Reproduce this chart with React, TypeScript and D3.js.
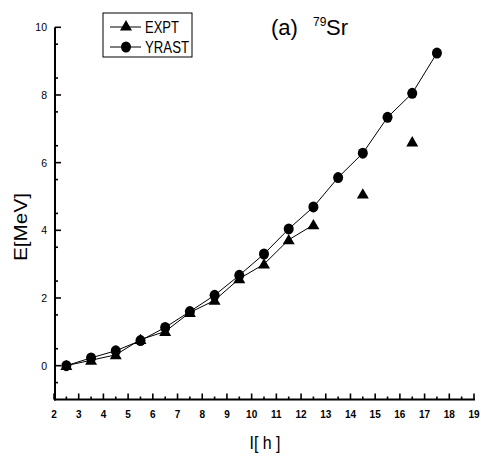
import React from "react";
import * as d3 from "d3";

// spins I (hbar)
const spins = [2.5, 3.5, 4.5, 5.5, 6.5, 7.5, 8.5, 9.5, 10.5, 11.5, 12.5, 13.5, 14.5, 15.5, 16.5, 17.5];
// yrast energies (MeV)
const yrast = [0.0, 0.23, 0.44, 0.74, 1.13, 1.6, 2.08, 2.67, 3.3, 4.04, 4.69, 5.56, 6.28, 7.34, 8.05, 9.24];
// experimental energies (MeV), null where not measured
const expt: (number | null)[] = [0.0, 0.16, 0.32, 0.77, 1.01, 1.57, 1.93, 2.57, 3.0, 3.72, 4.16, null, 5.07, null, 6.61, null];

const xTicks = d3.range(2, 20);
const yTicks = [0, 2, 4, 6, 8, 10];

const W = 481;
const H = 457;
const FONT = "'Liberation Sans', Arial, sans-serif";

export default function App() {
  const x = d3.scaleLinear().domain([2, 19]).range([54, 474]);
  const y = d3.scaleLinear().domain([-1, 10]).range([399.5, 27.3]);

  const line = d3
    .line<[number, number | null]>()
    .defined((d) => d[1] !== null)
    .x((d) => x(d[0]))
    .y((d) => y(d[1] as number));

  const yrastPts: [number, number | null][] = spins.map((s, i) => [s, yrast[i]]);
  const exptPts: [number, number | null][] = spins.map((s, i) => [s, expt[i]]);

  const tri = d3.symbol().type(d3.symbolTriangle).size(62);
  const circ = (cx: number, cy: number, k: string) => (
    <ellipse key={k} cx={cx} cy={cy} rx={5} ry={5.5} fill="#000" />
  );
  const triangle = (cx: number, cy: number, k: string) => (
    <path key={k} d={tri() as string} transform={`translate(${cx},${cy + 1})`} fill="#000" />
  );

  const x0 = x(2);
  const y0 = y(-1);
  const minorX = d3.range(2.5, 19, 1);
  const minorY = d3.range(-0.5, 10, 1);

  return (
    <svg width={W} height={H} style={{ position: "absolute", left: 0, top: 0 }}>
      <rect width={W} height={H} fill="#fff" />
      {/* axes */}
      <line x1={x0} x2={x(19) + 1} y1={y0} y2={y0} stroke="#000" strokeWidth={2} />
      <line x1={55} x2={55} y1={y(10)} y2={y0 + 1} stroke="#000" strokeWidth={2} />
      {xTicks.map((t) => (
        <g key={"xt" + t}>
          <line x1={x(t)} x2={x(t)} y1={y0} y2={y0 - 6} stroke="#000" strokeWidth={1.6} />
          <text x={x(t)} y={y0 + 18} textAnchor="middle" fontFamily={FONT} fontWeight="bold" fontSize={10}>
            {t}
          </text>
        </g>
      ))}
      {minorX.map((t) => (
        <line key={"xm" + t} x1={x(t)} x2={x(t)} y1={y0} y2={y0 - 3} stroke="#000" strokeWidth={1.6} />
      ))}
      {yTicks.map((t) => (
        <g key={"yt" + t}>
          <line x1={55} x2={61} y1={y(t)} y2={y(t)} stroke="#000" strokeWidth={1.6} />
          <text x={47} y={y(t) + 4} textAnchor="end" fontFamily={FONT} fontSize={10.5}>
            {t}
          </text>
        </g>
      ))}
      {minorY.map((t) => (
        <line key={"ym" + t} x1={55} x2={58} y1={y(t)} y2={y(t)} stroke="#000" strokeWidth={1.6} />
      ))}
      {/* axis titles */}
      <text x={265} y={449} textAnchor="middle" fontFamily={FONT} fontSize={18} textLength={31} lengthAdjust="spacingAndGlyphs">
        I[ h ]
      </text>
      <text
        transform={`translate(27,227) rotate(-90)`}
        textAnchor="middle"
        fontFamily={FONT}
        fontSize={18}
        textLength={68}
        lengthAdjust="spacingAndGlyphs"
      >
        E[MeV]
      </text>
      {/* title */}
      <text x={271} y={35} fontFamily={FONT} fontSize={22}>
        (a)
      </text>
      <text x={313} y={26} fontFamily={FONT} fontSize={12}>
        79
      </text>
      <text x={326} y={35} fontFamily={FONT} fontSize={22}>
        Sr
      </text>
      {/* series */}
      <path d={line(exptPts) as string} fill="none" stroke="#000" strokeWidth={1} />
      <path d={line(yrastPts) as string} fill="none" stroke="#000" strokeWidth={1} />
      {yrastPts.map((d, i) => circ(x(d[0]), y(d[1] as number), "c" + i))}
      {exptPts
        .filter((d) => d[1] !== null)
        .map((d, i) => triangle(x(d[0]), y(d[1] as number), "t" + i))}
      {/* legend */}
      <rect x={103} y={13} width={89} height={44} fill="#fff" stroke="#000" strokeWidth={1} />
      <line x1={110} x2={141} y1={27} y2={27} stroke="#000" strokeWidth={1} />
      {triangle(126, 26, "lt")}
      <text x={145} y={32.5} fontFamily={FONT} fontSize={16} textLength={34} lengthAdjust="spacingAndGlyphs">EXPT</text>
      <line x1={110} x2={141} y1={47} y2={47} stroke="#000" strokeWidth={1} />
      {circ(126, 47, "lc")}
      <text x={145} y={52.5} fontFamily={FONT} fontSize={16} textLength={44} lengthAdjust="spacingAndGlyphs">YRAST</text>
    </svg>
  );
}
